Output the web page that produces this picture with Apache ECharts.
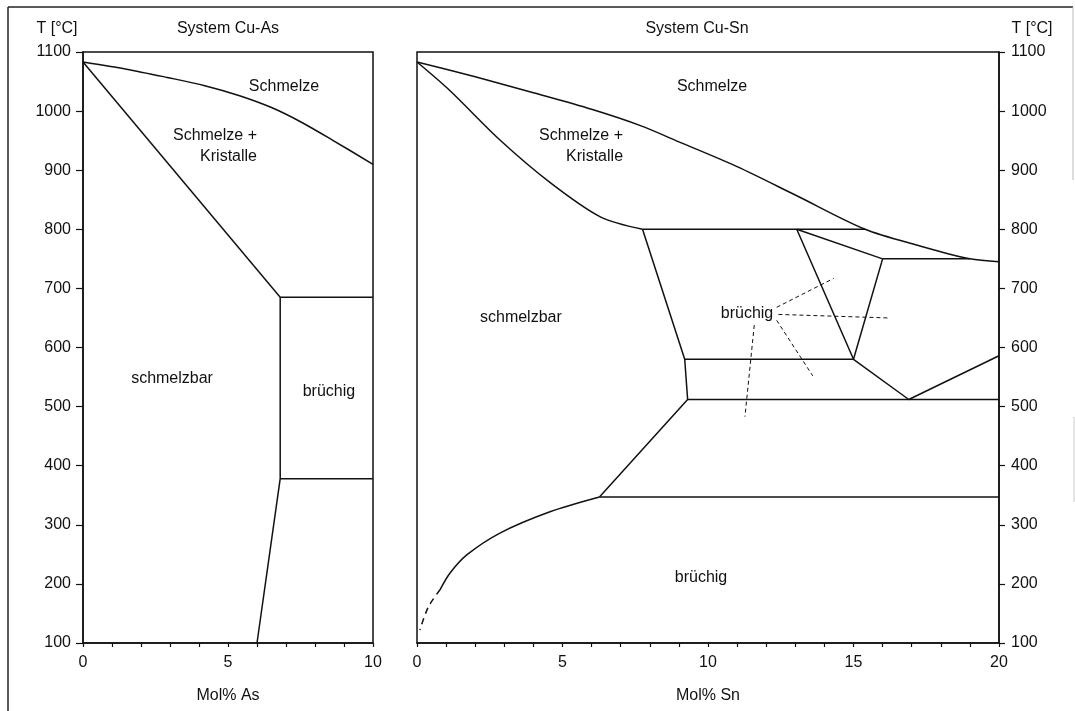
<!DOCTYPE html>
<html><head><meta charset="utf-8">
<script src="https://cdn.jsdelivr.net/npm/echarts/dist/echarts.min.js"></script>
<style>html,body{margin:0;padding:0;background:#fff}#c{width:1075px;height:711px}</style>
</head><body><div id="c"></div>
<script>
// ---------- Data: System Cu-As (x = Mol% As, y = T [°C]) ----------
const asLiquidus = [[0,1083],[1.5,1071],[2.9,1057],[4.2,1043],[5.4,1026],[6.5,1006],[7.5,982],[8.6,951],[10,910]];
const asSolidus = [[0,1083],[6.8,685]];
const asUpperHoriz = [[6.8,685],[10,685]];
const asBoundary = [[6.8,685],[6.8,378],[6.0,100]];
const asLowerHoriz = [[6.8,378],[10,378]];

// ---------- Data: System Cu-Sn (x = Mol% Sn, y = T [°C]) ----------
const snLiquidus = [[0,1083],[2,1058],[4,1031],[6,1003],[7.7,975],[9,948],[11,906],[13,858],[15.4,800],[17.2,773],[19,750],[20,745]];
const snSolidus = [[0,1083],[1.1,1036],[2.85,951],[4.6,878],[6.3,821],[7.75,800]];
const snHoriz800 = [[7.75,800],[15.4,800]];
const snBetaBoundary = [[7.75,800],[9.2,580],[9.3,512],[6.27,347]];
const snHoriz580 = [[9.2,580],[15.0,580]];
const snHoriz512 = [[9.3,512],[20,512]];
const snHoriz347 = [[6.27,347],[20,347]];
const snGammaA = [[13.05,800],[15.0,580],[16.9,512],[20,586]];
const snGammaB = [[13.05,800],[16.0,750],[15.0,580]];
const snHoriz750 = [[16.0,750],[19.0,750]];
const snSolvus = [[6.27,347],[4.57,322],[2.85,286],[1.71,249],[1.13,218],[0.79,190]];
const snSolvusDashed = [[0.79,190],[0.39,161],[0.1,122]];
const snLeaders = [
  [[12.36,668],[14.32,717]],
  [[12.42,656],[16.2,650]],
  [[12.36,646],[13.6,552]],
  [[11.59,638],[11.27,483]]
];

// ---------- Region labels ----------
const asLabels = [
  {name:'Schmelze', value:[6.93,1042]},
  {name:'schmelzbar', value:[3.07,547]},
  {name:'brüchig', value:[8.48,526]}
];
const asLabelsRight = [{name:'Schmelze +\nKristalle', value:[6.0,940]}];
const snLabels = [
  {name:'Schmelze', value:[10.14,1042]},
  {name:'schmelzbar', value:[3.57,650]},
  {name:'brüchig', value:[11.34,658]},
  {name:'brüchig', value:[9.76,210]}
];
const snLabelsRight = [{name:'Schmelze +\nKristalle', value:[7.08,940]}];

// ---------- Axis settings ----------
const tempMin = 100, tempMax = 1100, tempStep = 100;
const asMax = 10, snMax = 20, xStep = 1, xLabelStep = 5;
const axisTitles = {asX:'Mol% As', snX:'Mol% Sn', y:'T [°C]', asTitle:'System Cu-As', snTitle:'System Cu-Sn'};

const FONT = '"Liberation Sans", Arial, Helvetica, sans-serif';
const INK = '#111';

function ln(data, gi, opt) {
  opt = opt || {};
  return {
    type:'line', xAxisIndex:gi, yAxisIndex:gi, data:data,
    symbol:'none', smooth: opt.smooth || false, silent:true, animation:false,
    clip:false,
    lineStyle:{color:INK, width: opt.width || 1.5, type: opt.type || 'solid'},
    z:3
  };
}
function labels(data, gi, align) {
  return {
    type:'scatter', xAxisIndex:gi, yAxisIndex:gi, data:data, symbolSize:0, silent:true, animation:false,
    itemStyle:{opacity:1},
    label:{show:true, position:'inside', formatter:p=>p.name, color:INK, opacity:1, fontSize:16, fontFamily:FONT,
      align: align || 'center', verticalAlign:'middle', lineHeight:21},
    z:5
  };
}
function xAxis(gi, max, name) {
  return {
    type:'value', gridIndex:gi, min:0, max:max, interval:xStep, position:'bottom',
    name:name, nameLocation:'middle', nameGap:45,
    nameTextStyle:{color:INK, fontSize:16, fontFamily:FONT},
    axisLine:{show:true, onZero:false, lineStyle:{color:INK, width:1.5}},
    axisTick:{show:true, length:4, lineStyle:{color:INK, width:1.2}},
    axisLabel:{color:INK, fontSize:16, fontFamily:FONT, margin:12,
      formatter:v => (v % xLabelStep === 0 ? String(v) : '')},
    splitLine:{show:false}
  };
}
function yAxis(gi, pos) {
  return {
    type:'value', gridIndex:gi, min:tempMin, max:tempMax, interval:tempStep, position:pos,
    axisLine:{show:true, onZero:false, lineStyle:{color:INK, width:1.5}},
    axisTick:{show:true, length: pos==='left'?7:6, lineStyle:{color:INK, width:1.2}},
    axisLabel:{color:INK, fontSize:16, fontFamily:FONT, margin:12, formatter:v => String(v)},
    splitLine:{show:false}
  };
}

const chart = echarts.init(document.getElementById('c'), null, {renderer:'canvas'});
chart.setOption({
  animation:false,
  backgroundColor:'#fff',
  grid:[
    {left:83, right:702, top:52, bottom:68, show:true, borderColor:INK, borderWidth:1.5, backgroundColor:'transparent'},
    {left:417, right:76, top:52, bottom:68, show:true, borderColor:INK, borderWidth:1.5, backgroundColor:'transparent'}
  ],
  xAxis:[xAxis(0, asMax, axisTitles.asX), xAxis(1, snMax, axisTitles.snX)],
  yAxis:[yAxis(0,'left'), yAxis(1,'right')],
  graphic:[
    {type:'line', shape:{x1:8,y1:7,x2:8,y2:711}, style:{stroke:'#222', lineWidth:1.5}, silent:true},
    {type:'line', shape:{x1:8,y1:7,x2:1073,y2:7}, style:{stroke:'#222', lineWidth:1.5}, silent:true},
    {type:'line', shape:{x1:1073,y1:7,x2:1073,y2:180}, style:{stroke:'#bbb', lineWidth:1}, silent:true},
    {type:'line', shape:{x1:1074,y1:417,x2:1074,y2:502}, style:{stroke:'#ccc', lineWidth:1}, silent:true},
    {type:'text', x:57, y:29, silent:true, style:{text:axisTitles.y, fill:INK, fontSize:16, fontFamily:FONT, align:'center', verticalAlign:'middle'}},
    {type:'text', x:228, y:29, silent:true, style:{text:axisTitles.asTitle, fill:INK, fontSize:16, fontFamily:FONT, align:'center', verticalAlign:'middle'}},
    {type:'text', x:697, y:29, silent:true, style:{text:axisTitles.snTitle, fill:INK, fontSize:16, fontFamily:FONT, align:'center', verticalAlign:'middle'}},
    {type:'text', x:1032, y:29, silent:true, style:{text:axisTitles.y, fill:INK, fontSize:16, fontFamily:FONT, align:'center', verticalAlign:'middle'}}
  ],
  series:[
    ln(asLiquidus,0,{smooth:0.3}),
    ln(asSolidus,0),
    ln(asUpperHoriz,0),
    ln(asBoundary,0),
    ln(asLowerHoriz,0),
    labels(asLabels,0),
    labels(asLabelsRight,0,'right'),
    ln(snLiquidus,1,{smooth:0.3}),
    ln(snSolidus,1,{smooth:0.3}),
    ln(snHoriz800,1),
    ln(snBetaBoundary,1),
    ln(snHoriz580,1),
    ln(snHoriz512,1),
    ln(snHoriz347,1),
    ln(snGammaA,1),
    ln(snGammaB,1),
    ln(snHoriz750,1),
    ln(snSolvus,1,{smooth:0.3}),
    ln(snSolvusDashed,1,{smooth:0.3, type:[6,5]}),
    ...snLeaders.map(d => ln(d,1,{type:[4,3], width:1})),
    labels(snLabels,1),
    labels(snLabelsRight,1,'right')
  ]
});
</script></body></html>
